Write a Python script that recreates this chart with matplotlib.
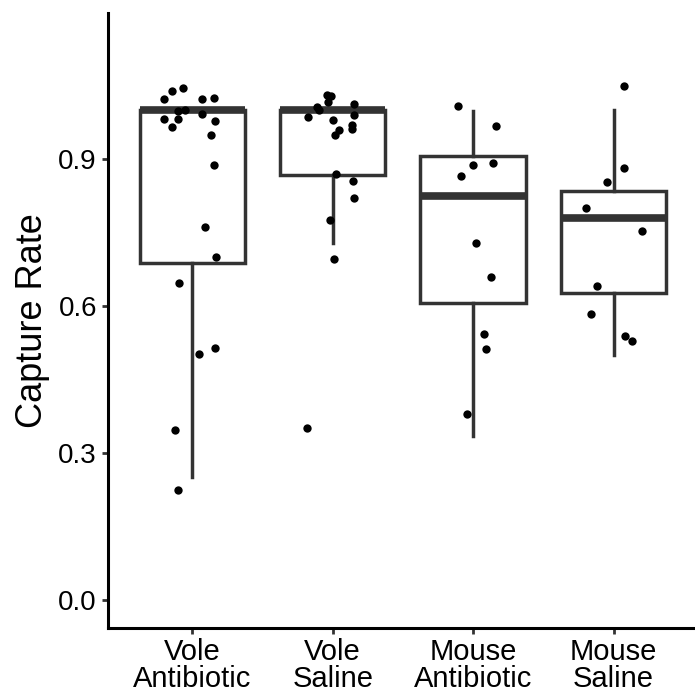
import numpy as np
import matplotlib
matplotlib.use("Agg")
import matplotlib.pyplot as plt

plt.rcParams['font.family'] = ['Liberation Sans', 'DejaVu Sans']

# groups on the x axis
categories = ["Vole\nAntibiotic", "Vole\nSaline", "Mouse\nAntibiotic", "Mouse\nSaline"]

# box summaries
whislo = [0.252, 0.728, 0.335, 0.501]
q1 = [0.688, 0.867, 0.606, 0.626]
med = [1.000, 1.000, 0.824, 0.779]
q3 = [1.000, 1.000, 0.906, 0.835]
whishi = [1.000, 1.000, 0.999, 1.000]

# jittered points: horizontal jitter and capture rate
vole_ab_dx = [-0.20, -0.141, -0.068, 0.069, 0.157, -0.098, -0.05, 0.069, -0.20, -0.098, -0.141,
              0.164, 0.131, 0.157, 0.091, 0.166, -0.091, 0.05, 0.164, -0.126, -0.098]
vole_ab_y = [1.022, 1.039, 1.046, 1.023, 1.025, 0.998, 1.000, 0.993, 0.983, 0.983, 0.966,
             0.979, 0.950, 0.888, 0.762, 0.700, 0.647, 0.503, 0.515, 0.348, 0.224]

vole_sal_dx = [-0.044, -0.011, -0.03, -0.109, -0.096, 0.154, 0.154, -0.173, -0.001, 0.141,
               0.141, 0.046, 0.018, 0.027, 0.146, 0.151, -0.018, 0.006, -0.182]
vole_sal_y = [1.032, 1.029, 1.016, 1.007, 1.001, 1.012, 0.991, 0.986, 0.981, 0.969,
              0.961, 0.959, 0.950, 0.869, 0.855, 0.821, 0.776, 0.697, 0.352]

mouse_ab_dx = [-0.107, 0.166, 0.002, 0.141, -0.088, 0.021, 0.126, 0.079, 0.089, -0.045]
mouse_ab_y = [1.009, 0.968, 0.888, 0.892, 0.866, 0.729, 0.659, 0.544, 0.512, 0.380]

mouse_sal_dx = [0.076, 0.071, -0.048, -0.193, 0.20, -0.116, -0.159, 0.084, 0.131]
mouse_sal_y = [1.049, 0.882, 0.854, 0.801, 0.754, 0.641, 0.585, 0.539, 0.529]

yticks = [0.0, 0.3, 0.6, 0.9]

fig = plt.figure(figsize=(6.95, 6.98), dpi=100)
ax = fig.add_axes([0.1554, 0.1003, 0.8446, 0.8807])

positions = np.arange(1, len(categories) + 1)
stats = []
for i in range(len(categories)):
    stats.append(dict(whislo=whislo[i], q1=q1[i], med=med[i], q3=q3[i], whishi=whishi[i]))

box_col = "#333333"
ax.bxp(stats, positions=positions, widths=0.75, showcaps=False, showfliers=False,
       patch_artist=True,
       boxprops=dict(facecolor="white", edgecolor=box_col, linewidth=2.5),
       whiskerprops=dict(color=box_col, linewidth=2.5),
       medianprops=dict(color=box_col, linewidth=5.5, solid_capstyle="butt"))

groups = [(vole_ab_dx, vole_ab_y), (vole_sal_dx, vole_sal_y),
          (mouse_ab_dx, mouse_ab_y), (mouse_sal_dx, mouse_sal_y)]
for pos, (dx, y) in zip(positions, groups):
    ax.scatter(pos + np.array(dx), y, s=36, color="black", zorder=5, linewidths=0)

ax.set_xlim(0.4, 4.58)
ax.set_ylim(-0.057, 1.198)
ax.set_xticks(positions)
ax.set_xticklabels(categories, fontsize=21, linespacing=0.95)
ax.set_yticks(yticks)
ax.set_yticklabels([f"{v:.1f}" for v in yticks], fontsize=20)
ax.set_ylabel("Capture Rate", fontsize=26, labelpad=6)

for s in ["top", "right"]:
    ax.spines[s].set_visible(False)
for s in ["left", "bottom"]:
    ax.spines[s].set_linewidth(2.2)
    ax.spines[s].set_color("black")
ax.tick_params(axis="both", length=4, width=2, color=box_col, labelcolor="black")
ax.tick_params(axis="x", pad=3)
ax.tick_params(axis="y", pad=4)

fig.savefig("out.png", dpi=100)
